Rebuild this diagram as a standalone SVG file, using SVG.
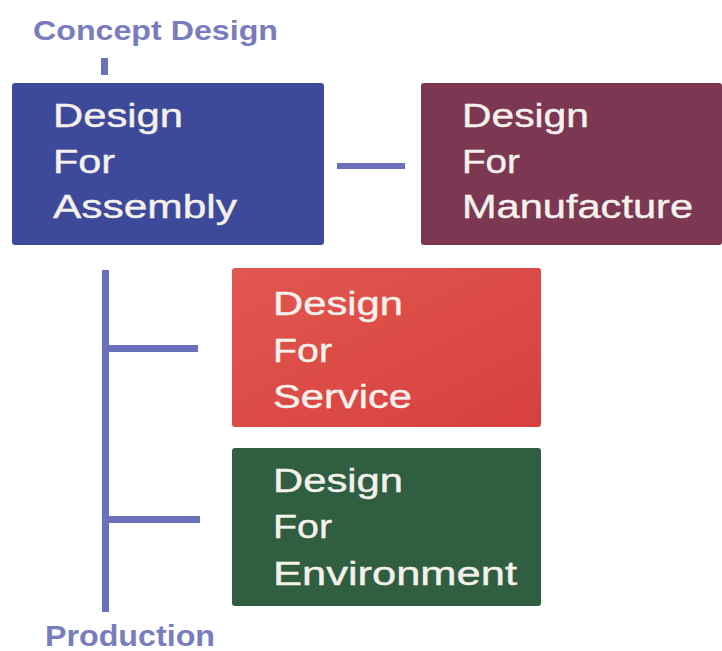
<svg xmlns="http://www.w3.org/2000/svg" width="722" height="651" viewBox="0 0 722 651">
<defs>
<style>
.lbl{font-family:"Liberation Sans",Arial,sans-serif;font-weight:bold;fill:#787dbd}
.nt{font-family:"Liberation Sans",Arial,sans-serif;font-size:33px;fill:#f4f1ec;stroke:#f4f1ec;stroke-width:0.4}
.ln{fill:#6b70bb}
</style>
<linearGradient id="gRed" x1="0" y1="0" x2="1" y2="1">
<stop offset="0" stop-color="#e2574f"/>
<stop offset="1" stop-color="#d6403f"/>
</linearGradient>
</defs>
<rect width="722" height="651" fill="#ffffff"/>
<g id="connectors">
<rect class="ln" x="101" y="58" width="7" height="17"/>
<rect class="ln" x="337" y="163" width="68" height="6"/>
<rect class="ln" x="102" y="270" width="7" height="342"/>
<rect class="ln" x="102" y="345" width="96" height="7"/>
<rect class="ln" x="102" y="516" width="98" height="7"/>
</g>
<g id="concept">
<text class="lbl" x="33" y="40" font-size="27" textLength="245" lengthAdjust="spacingAndGlyphs">Concept Design</text>
</g>
<g id="production">
<text class="lbl" x="45" y="646" font-size="30" textLength="170" lengthAdjust="spacingAndGlyphs">Production</text>
</g>
<g id="dfa">
<rect x="12" y="83" width="312" height="162" rx="3" fill="#3d4a99"/>
<text class="nt" x="53" y="127" textLength="130" lengthAdjust="spacingAndGlyphs">Design</text>
<text class="nt" x="53" y="173" textLength="62" lengthAdjust="spacingAndGlyphs">For</text>
<text class="nt" x="53" y="218" textLength="184" lengthAdjust="spacingAndGlyphs">Assembly</text>
</g>
<g id="dfm">
<rect x="421" y="83" width="301" height="162" rx="3" fill="#7c3852"/>
<text class="nt" x="462" y="127" textLength="127" lengthAdjust="spacingAndGlyphs">Design</text>
<text class="nt" x="462" y="173" textLength="58" lengthAdjust="spacingAndGlyphs">For</text>
<text class="nt" x="462" y="218" textLength="231" lengthAdjust="spacingAndGlyphs">Manufacture</text>
</g>
<g id="dfs">
<rect x="232" y="268" width="309" height="159" rx="3" fill="url(#gRed)"/>
<text class="nt" x="273" y="315" textLength="130" lengthAdjust="spacingAndGlyphs">Design</text>
<text class="nt" x="273" y="362" textLength="59" lengthAdjust="spacingAndGlyphs">For</text>
<text class="nt" x="273" y="408" textLength="139" lengthAdjust="spacingAndGlyphs">Service</text>
</g>
<g id="dfe">
<rect x="232" y="448" width="309" height="158" rx="3" fill="#305e41"/>
<text class="nt" x="273" y="492" textLength="130" lengthAdjust="spacingAndGlyphs">Design</text>
<text class="nt" x="273" y="538" textLength="59" lengthAdjust="spacingAndGlyphs">For</text>
<text class="nt" x="273" y="585" textLength="244" lengthAdjust="spacingAndGlyphs">Environment</text>
</g>
</svg>
